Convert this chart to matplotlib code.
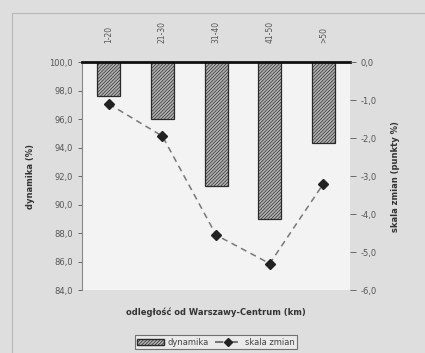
import matplotlib.pyplot as plt
from matplotlib.patches import Rectangle
from matplotlib.lines import Line2D
from matplotlib.patches import Patch

# data
categories = ["1-20", "21-30", "31-40", "41-50", ">50"]
dynamika = [97.6, 96.0, 91.3, 89.0, 94.3]
skala_zmian = [-1.1, -1.95, -4.55, -5.3, -3.2]
left_ticks = [84, 86, 88, 90, 92, 94, 96, 98, 100]
right_ticks = [0, -1, -2, -3, -4, -5, -6]

plt.rcParams['hatch.linewidth'] = 0.5
plt.rcParams['hatch.color'] = '#555555'

fig = plt.figure(figsize=(4.25, 3.53), dpi=100)
fig.patch.set_facecolor('#dedede')
# outer frame line
fig.patches.append(Rectangle((12 / 425, -0.05), 1.1, 1 - 13 / 353 + 0.05,
                             transform=fig.transFigure, fill=False,
                             edgecolor='#b8b8b8', lw=0.8))

ax = fig.add_axes([0.193, 0.178, 0.631, 0.646])
ax.set_facecolor('#f3f3f3')
x = list(range(len(categories)))

# bars hang from 100 down to the value
heights = [100 - v for v in dynamika]
ax.bar(x, heights, bottom=dynamika, width=0.43, color='#b4b4b4',
       edgecolor='#2a2a2a', hatch='//////////', lw=0.9, zorder=2)
ax.set_ylim(84, 100)
ax.set_xlim(-0.5, len(categories) - 0.5)
ax.set_yticks(left_ticks)
ax.set_yticklabels([f"{t:.1f}".replace('.', ',') for t in left_ticks])
ax.tick_params(axis='y', labelsize=6, colors='#555555', length=3, width=0.6)
ax.set_ylabel('dynamika (%)', fontsize=6, color='#333333', fontweight='bold',
              labelpad=10)

ax.xaxis.tick_top()
ax.set_xticks(x)
ax.set_xticklabels(categories, rotation=90, fontsize=5.5, color='#555555')
ax.tick_params(axis='x', length=0, pad=14)

ax.spines['top'].set_linewidth(2)
ax.spines['top'].set_color('#111111')
ax.spines['left'].set_color('#888888')
ax.spines['left'].set_linewidth(0.8)
ax.spines['bottom'].set_visible(False)
ax.spines['right'].set_visible(False)

ax2 = ax.twinx()
ax2.plot(x, skala_zmian, ls=(0, (4, 3)), color='#777777', lw=1.1, marker='D',
         markersize=5.5, markerfacecolor='#222222', markeredgecolor='#222222',
         zorder=3)
ax2.set_ylim(-6, 0)
ax2.set_yticks(right_ticks)
ax2.set_yticklabels([f"{t:.1f}".replace('.', ',') for t in right_ticks])
ax2.tick_params(axis='y', labelsize=6, colors='#555555', length=4, width=0.6)
ax2.set_ylabel('skala zmian (punkty %)', fontsize=6, color='#333333',
               fontweight='bold', labelpad=10)
for s in ['top', 'left', 'bottom', 'right']:
    ax2.spines[s].set_visible(False)

fig.text(0.508, 0.116, 'odległość od Warszawy-Centrum (km)', ha='center',
         va='center', fontsize=6, fontweight='bold', color='#333333')

handles = [Patch(facecolor='#b4b4b4', edgecolor='#2a2a2a', hatch='//////////'),
           Line2D([], [], ls=(0, (4, 3)), color='#777777', marker='D',
                  markersize=4, markerfacecolor='#222222',
                  markeredgecolor='#222222')]
leg = fig.legend(handles, ['dynamika', 'skala zmian'], loc='center',
                 bbox_to_anchor=(0.508, 0.031), ncol=2, fontsize=6,
                 frameon=True, fancybox=False, handlelength=3.2,
                 columnspacing=0.8, handletextpad=0.4, borderpad=0.3)
leg.get_frame().set_edgecolor('#555555')
leg.get_frame().set_facecolor('#eeeeee')
leg.get_frame().set_linewidth(0.8)
for t in leg.get_texts():
    t.set_color('#444444')

plt.savefig('out.png', dpi=100, facecolor=fig.get_facecolor())
